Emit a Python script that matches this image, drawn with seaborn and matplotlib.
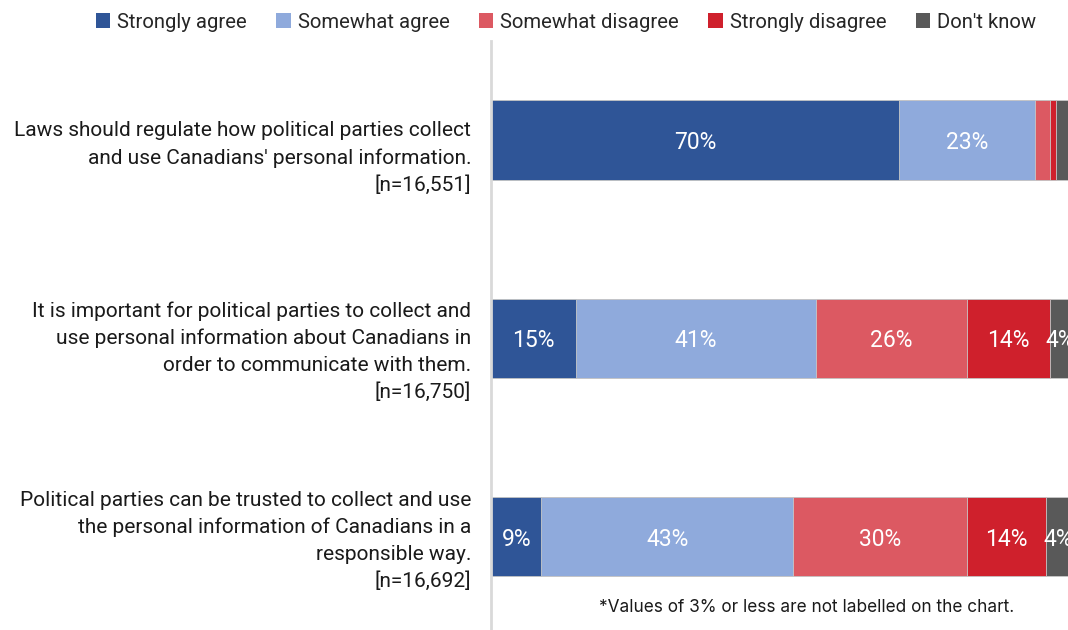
import matplotlib
matplotlib.use("Agg")
import matplotlib.pyplot as plt
from matplotlib.patches import Patch
from matplotlib.transforms import blended_transform_factory
import numpy as np
import pandas as pd
import seaborn as sns

statements = [
    "Laws should regulate how political parties collect\nand use Canadians' personal information.\n[n=16,551]",
    "It is important for political parties to collect and\nuse personal information about Canadians in\norder to communicate with them.\n[n=16,750]",
    "Political parties can be trusted to collect and use\nthe personal information of Canadians in a\nresponsible way.\n[n=16,692]",
]
responses = ["Strongly agree", "Somewhat agree", "Somewhat disagree",
             "Strongly disagree", "Don't know"]
strongly_agree = [70.4, 14.7, 8.7]
somewhat_agree = [23.4, 41.3, 43.4]
somewhat_disagree = [2.5, 26.1, 29.9]
strongly_disagree = [1.1, 14.2, 13.7]
dont_know = [2.6, 3.7, 4.3]
colors = ["#2F5597", "#8FAADC", "#DC5962", "#CF202C", "#595959"]

series = [strongly_agree, somewhat_agree, somewhat_disagree,
          strongly_disagree, dont_know]
rows = []
for resp, vals in zip(responses, series):
    for st, v in zip(statements, vals):
        rows.append({"statement": st, "response": resp, "value": v})
df = pd.DataFrame(rows)
df["cum"] = df.groupby("statement", sort=False)["value"].cumsum()

sns.set_theme(style="white")
plt.rcParams["font.family"] = ["Roboto", "DejaVu Sans"]

fig = plt.figure(figsize=(10.68, 6.30), dpi=100)
ax = fig.add_axes([491 / 1068, 0.0, 580 / 1068, 1 - 41 / 630])

# stacked bars: draw cumulative totals from the longest down
for resp, col in reversed(list(zip(responses, colors))):
    sub = df[df["response"] == resp]
    sns.barplot(data=sub, x="cum", y="statement", order=statements,
                color=col, orient="h", width=0.4, ax=ax,
                edgecolor="#C8C8C8", linewidth=0.6, saturation=1)

# value labels inside segments (values of 3% or less skipped)
for _, r in df.iterrows():
    if r["value"] > 3:
        i = statements.index(r["statement"])
        ax.text(r["cum"] - r["value"] / 2, i, f"{r['value']:.0f}%",
                ha="center", va="center_baseline", color="white", fontsize=16.5)

ax.set_xlim(0, 100)
ax.set_ylim(2.47, -0.5)
ax.set_xlabel("")
ax.set_ylabel("")
ax.set_xticks([])
ax.set_yticks([])
for s in ["top", "right", "bottom"]:
    ax.spines[s].set_visible(False)
ax.spines["left"].set_color("#D9D9D9")
ax.spines["left"].set_linewidth(2)

# statement labels to the left of the axis
trans = blended_transform_factory(ax.transAxes, ax.transData)
label_tops = [-0.095, -0.186, -0.23]
for i, (st, dy) in enumerate(zip(statements, label_tops)):
    ax.text(-0.034, i + dy, st, transform=trans, ha="right", va="top",
            fontsize=15, color="#1a1a1a", linespacing=1.5)

handles = [Patch(facecolor=c, edgecolor="none") for c in colors]
fig.legend(handles, responses, loc="center", bbox_to_anchor=(566 / 1068, 1 - 22 / 630),
           ncol=5, frameon=False, fontsize=14.6, handlelength=0.7, handleheight=0.7,
           handletextpad=0.35, columnspacing=1.45, borderaxespad=0)

fig.text(807 / 1068, 1 - 607 / 630, "*Values of 3% or less are not labelled on the chart.",
         ha="center", va="center", fontsize=12.4, color="#1a1a1a",
         family=["Inter", "DejaVu Sans"])

fig.savefig("out.png", dpi=100)
